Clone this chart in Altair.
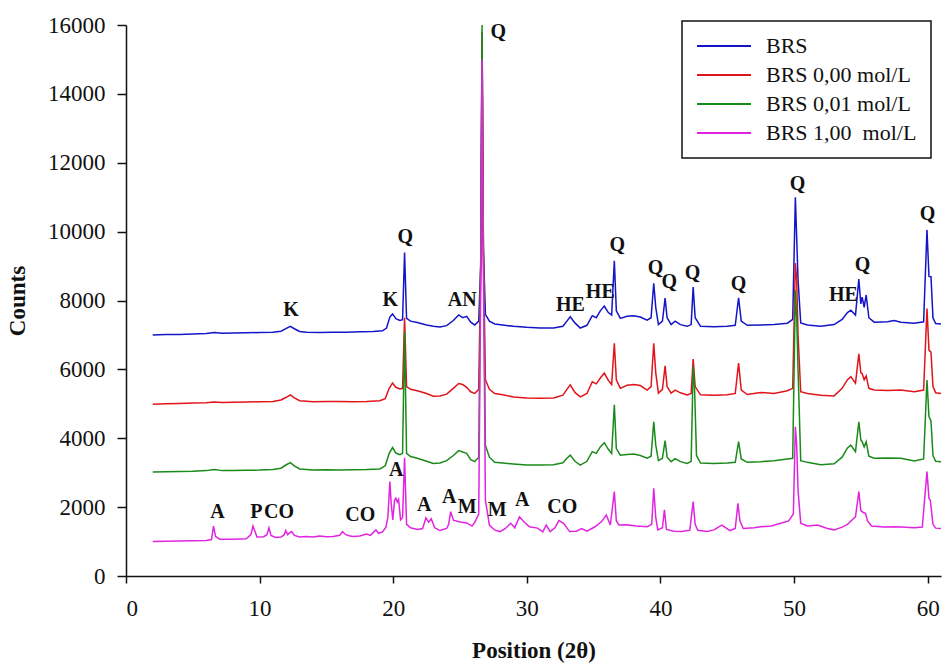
import altair as alt
import pandas as pd

# ---- series names & colours ----
series_names = ["BRS", "BRS 0,00 mol/L", "BRS 0,01 mol/L", "BRS 1,00\u00a0 mol/L"]
series_colors = ["#1414C8", "#E0141A", "#1A8A1A", "#E024E0"]

# ---- diffraction patterns: (2theta, counts) ----
brs = [(2.0, 7000), (3.0, 7010), (4.0, 7015), (5.0, 7030), (6.0, 7045), (6.6, 7070), (7.2, 7050),
       (8.0, 7055), (9.0, 7060), (10.0, 7070), (11.0, 7080), (11.6, 7110), (12.0, 7190), (12.3, 7250),
       (12.6, 7180), (13.0, 7100), (13.5, 7075), (14.5, 7070), (15.5, 7075), (16.5, 7080), (17.5, 7090),
       (18.5, 7100), (19.2, 7120), (19.5, 7200), (19.75, 7520), (19.95, 7610), (20.2, 7470), (20.5, 7420),
       (20.7, 7440), (20.85, 9390), (21.0, 7480), (21.3, 7400), (21.8, 7360), (22.5, 7290), (23.0, 7250),
       (23.5, 7230), (24.0, 7270), (24.5, 7420), (24.9, 7580), (25.2, 7500), (25.5, 7540), (25.8, 7370),
       (26.1, 7290), (26.4, 7400), (26.55, 9000), (26.65, 15600), (26.75, 9500), (26.9, 7600), (27.2, 7400),
       (27.6, 7320), (28.2, 7290), (29.0, 7250), (30.0, 7220), (31.0, 7200), (32.0, 7200), (32.7, 7250),
       (33.0, 7400), (33.25, 7530), (33.6, 7350), (34.0, 7200), (34.5, 7280), (34.9, 7560), (35.2, 7500),
       (35.5, 7700), (35.8, 7840), (36.1, 7650), (36.35, 7580), (36.55, 9150), (36.7, 7700), (37.0, 7480),
       (37.5, 7540), (38.0, 7560), (38.5, 7520), (39.0, 7430), (39.3, 7500), (39.5, 8500), (39.65, 7800),
       (39.85, 7300), (40.15, 7400), (40.35, 8070), (40.5, 7500), (40.8, 7300), (41.1, 7400), (41.5, 7300),
       (42.0, 7250), (42.3, 7300), (42.45, 8390), (42.6, 7500), (43.0, 7250), (44.0, 7240), (45.0, 7250),
       (45.6, 7280), (45.85, 8080), (46.05, 7400), (46.5, 7280), (47.5, 7290), (48.5, 7300), (49.5, 7340),
       (49.9, 7450), (50.1, 11000), (50.2, 9800), (50.3, 8600), (50.5, 7350), (51.0, 7290), (52.0, 7250),
       (53.0, 7300), (53.6, 7450), (54.0, 7650), (54.25, 7720), (54.6, 7580), (54.85, 8620), (55.0, 7900),
       (55.1, 8100), (55.25, 7800), (55.4, 8160), (55.6, 7500), (56.0, 7370), (57.0, 7380), (57.5, 7420),
       (58.0, 7370), (59.0, 7340), (59.7, 7380), (59.95, 10050), (60.1, 8700), (60.25, 8690), (60.4, 7500),
       (60.6, 7330), (61.0, 7320)]

brs_000 = [(2.0, 4990), (3.0, 5000), (4.0, 5010), (5.0, 5020), (6.0, 5030), (6.6, 5050), (7.2, 5040),
           (8.0, 5045), (9.0, 5050), (10.0, 5060), (11.0, 5070), (11.6, 5110), (12.0, 5190), (12.3, 5260),
           (12.6, 5170), (13.0, 5090), (14.0, 5060), (15.0, 5065), (16.0, 5070), (17.0, 5060), (18.0, 5070),
           (19.0, 5090), (19.4, 5150), (19.7, 5450), (19.95, 5600), (20.2, 5480), (20.5, 5430), (20.7, 5450),
           (20.85, 7500), (21.0, 5500), (21.3, 5420), (21.8, 5380), (22.5, 5300), (23.0, 5220), (23.5, 5230),
           (24.0, 5280), (24.5, 5450), (24.9, 5590), (25.2, 5560), (25.5, 5480), (25.8, 5350), (26.1, 5300),
           (26.4, 5420), (26.55, 9000), (26.65, 15800), (26.75, 9400), (26.9, 5700), (27.2, 5420), (27.6, 5300),
           (28.2, 5260), (29.0, 5200), (30.0, 5170), (31.0, 5160), (32.0, 5170), (32.7, 5250), (33.0, 5420),
           (33.25, 5550), (33.6, 5330), (34.0, 5200), (34.5, 5300), (34.9, 5640), (35.2, 5580), (35.5, 5750),
           (35.8, 5890), (36.1, 5680), (36.35, 5560), (36.55, 6760), (36.7, 5700), (37.0, 5450), (37.5, 5540),
           (38.0, 5560), (38.5, 5530), (39.0, 5400), (39.3, 5500), (39.5, 6760), (39.65, 5900), (39.85, 5310),
           (40.15, 5420), (40.35, 6100), (40.5, 5500), (40.8, 5310), (41.1, 5400), (41.5, 5320), (42.0, 5260),
           (42.3, 5300), (42.45, 6300), (42.6, 5500), (43.0, 5260), (44.0, 5250), (45.0, 5260), (45.6, 5300),
           (45.85, 6180), (46.05, 5400), (46.5, 5270), (47.5, 5330), (48.5, 5300), (49.5, 5380), (49.9, 5450),
           (50.1, 9090), (50.2, 8600), (50.3, 7000), (50.5, 5350), (51.0, 5300), (52.0, 5250), (53.0, 5230),
           (53.6, 5450), (54.0, 5700), (54.25, 5790), (54.6, 5600), (54.85, 6450), (55.0, 5900), (55.1, 5880),
           (55.25, 5700), (55.4, 5810), (55.6, 5450), (56.0, 5400), (57.0, 5390), (58.0, 5400), (59.0, 5350),
           (59.7, 5400), (59.95, 7770), (60.1, 6560), (60.25, 6500), (60.4, 5500), (60.6, 5320), (61.0, 5300)]

brs_001 = [(2.0, 3020), (3.0, 3030), (4.0, 3035), (5.0, 3040), (6.0, 3060), (6.6, 3090), (7.2, 3060),
           (8.0, 3060), (9.0, 3070), (10.0, 3075), (11.0, 3090), (11.6, 3130), (12.0, 3230), (12.3, 3290),
           (12.6, 3200), (13.0, 3110), (14.0, 3080), (15.0, 3085), (16.0, 3080), (17.0, 3085), (18.0, 3090),
           (19.0, 3110), (19.4, 3200), (19.7, 3560), (19.95, 3730), (20.2, 3570), (20.5, 3520), (20.7, 3560),
           (20.85, 7100), (21.0, 3560), (21.3, 3470), (21.8, 3420), (22.5, 3330), (23.0, 3270), (23.5, 3280),
           (24.0, 3350), (24.5, 3500), (24.9, 3640), (25.2, 3600), (25.5, 3560), (25.8, 3380), (26.1, 3320),
           (26.4, 3450), (26.55, 9200), (26.65, 16000), (26.75, 9600), (26.9, 3800), (27.2, 3450), (27.6, 3300),
           (28.2, 3280), (29.0, 3250), (30.0, 3220), (31.0, 3220), (32.0, 3230), (32.7, 3290), (33.0, 3420),
           (33.25, 3510), (33.6, 3330), (34.0, 3220), (34.5, 3330), (34.9, 3610), (35.2, 3560), (35.5, 3750),
           (35.8, 3870), (36.1, 3680), (36.35, 3560), (36.55, 4970), (36.7, 3700), (37.0, 3510), (37.5, 3530),
           (38.0, 3540), (38.5, 3500), (39.0, 3420), (39.3, 3480), (39.5, 4480), (39.65, 3800), (39.85, 3350),
           (40.15, 3420), (40.35, 3930), (40.5, 3450), (40.8, 3320), (41.1, 3410), (41.5, 3320), (42.0, 3270),
           (42.3, 3330), (42.45, 6080), (42.55, 5500), (42.7, 3500), (43.0, 3280), (44.0, 3270), (45.0, 3280),
           (45.6, 3300), (45.85, 3900), (46.05, 3400), (46.5, 3300), (47.5, 3320), (48.5, 3350), (49.5, 3400),
           (49.9, 3420), (50.1, 8300), (50.2, 7500), (50.3, 6000), (50.5, 3350), (51.0, 3300), (52.0, 3230),
           (53.0, 3260), (53.6, 3450), (54.0, 3720), (54.25, 3800), (54.6, 3610), (54.85, 4480), (55.0, 3950),
           (55.1, 3900), (55.25, 3750), (55.4, 3900), (55.6, 3480), (56.0, 3420), (57.0, 3430), (58.0, 3420),
           (59.0, 3340), (59.7, 3400), (59.95, 5690), (60.1, 4630), (60.25, 4500), (60.4, 3500), (60.6, 3330),
           (61.0, 3320)]

brs_100 = [(2.0, 1000), (3.0, 1010), (4.0, 1015), (5.0, 1020), (6.0, 1030), (6.4, 1060), (6.55, 1450),
           (6.7, 1150), (7.0, 1070), (8.0, 1070), (9.0, 1080), (9.35, 1200), (9.5, 1450), (9.65, 1300),
           (9.8, 1130), (10.3, 1140), (10.55, 1200), (10.7, 1400), (10.85, 1180), (11.2, 1120), (11.6, 1130),
           (11.85, 1200), (11.95, 1320), (12.1, 1200), (12.25, 1260), (12.4, 1290), (12.6, 1180), (13.0, 1130),
           (13.5, 1150), (14.0, 1130), (14.5, 1160), (15.0, 1140), (15.5, 1150), (16.0, 1180), (16.2, 1290),
           (16.45, 1200), (16.7, 1170), (17.0, 1150), (17.5, 1160), (18.0, 1220), (18.3, 1180), (18.7, 1340),
           (18.9, 1240), (19.2, 1280), (19.45, 1420), (19.6, 1700), (19.75, 2740), (19.85, 2100), (19.97, 1630),
           (20.1, 2200), (20.2, 2260), (20.3, 2150), (20.4, 2230), (20.55, 1630), (20.7, 1700), (20.85, 3430),
           (21.0, 1500), (21.3, 1400), (21.8, 1350), (22.2, 1380), (22.45, 1690), (22.65, 1560), (22.85, 1660),
           (23.1, 1400), (23.5, 1320), (24.0, 1380), (24.15, 1500), (24.3, 1870), (24.5, 1620), (25.0, 1570),
           (25.5, 1540), (25.9, 1450), (26.1, 1560), (26.4, 1800), (26.55, 8500), (26.65, 15000), (26.75, 9000),
           (26.9, 2200), (27.2, 1480), (27.6, 1330), (28.0, 1290), (28.4, 1380), (28.8, 1530), (29.1, 1400),
           (29.45, 1720), (29.8, 1570), (30.2, 1430), (30.8, 1390), (31.2, 1280), (31.45, 1480), (31.75, 1290),
           (32.1, 1400), (32.4, 1610), (32.75, 1530), (33.2, 1290), (33.7, 1300), (34.1, 1380), (34.5, 1300),
           (35.1, 1430), (35.6, 1580), (35.95, 1770), (36.25, 1480), (36.55, 2450), (36.7, 1600), (36.9, 1480),
           (37.5, 1490), (38.2, 1450), (39.0, 1430), (39.35, 1500), (39.5, 2550), (39.65, 1700), (39.8, 1340),
           (40.15, 1400), (40.3, 1920), (40.45, 1350), (41.0, 1300), (41.6, 1290), (42.2, 1330), (42.45, 2160),
           (42.6, 1500), (42.8, 1330), (43.5, 1290), (44.0, 1340), (44.6, 1480), (45.2, 1320), (45.6, 1380),
           (45.8, 2110), (45.95, 1600), (46.2, 1380), (47.0, 1400), (47.5, 1430), (48.3, 1450), (49.0, 1530),
           (49.6, 1600), (49.95, 1800), (50.1, 4330), (50.2, 3800), (50.3, 2500), (50.5, 1530), (51.0, 1450),
           (51.75, 1480), (52.5, 1380), (53.0, 1340), (53.6, 1420), (54.0, 1500), (54.4, 1650), (54.6, 1720),
           (54.85, 2450), (55.0, 1900), (55.15, 1850), (55.35, 1820), (55.5, 1600), (55.8, 1450), (56.7, 1420),
           (57.5, 1430), (58.0, 1420), (59.0, 1400), (59.6, 1420), (59.95, 3030), (60.1, 2260), (60.2, 2200),
           (60.4, 1500), (60.6, 1390), (61.0, 1380)]

# ---- phase labels: text, 2theta, counts ----
label_text = ["K", "K", "Q", "AN", "Q", "HE", "HE", "Q", "Q", "Q", "Q", "Q", "Q", "HE", "Q", "Q",
              "A", "P", "CO", "CO", "A", "A", "A", "M", "M", "A", "CO"]
label_x = [12.36, 19.78, 20.9, 25.17, 27.87, 33.26, 35.5, 36.78, 39.63, 40.67, 42.4, 45.84, 50.26, 53.7,
           55.13, 60.0, 6.85, 9.75, 11.45, 17.53, 20.22, 22.32, 24.19, 25.54, 27.79, 29.66, 32.66]
label_y = [7725, 8015, 9845, 8015, 15800, 7870, 8247, 9612, 8944, 8538, 8799, 8480, 11384, 8160, 9031,
           10512, 1844, 1844, 1844, 1771, 3078, 2062, 2294, 2004, 1917, 2207, 2004]

x_ticks = [0, 10, 20, 30, 40, 50, 60]
y_ticks = [0, 2000, 4000, 6000, 8000, 10000, 12000, 14000, 16000]

# ---- build tables ----
rows = []
for name, pts in zip(series_names, [brs, brs_000, brs_001, brs_100]):
    for i, (tt, c) in enumerate(pts):
        rows.append({"series": name, "theta": tt, "counts": c, "idx": i})
df = pd.DataFrame(rows)
labels = pd.DataFrame({"text": label_text, "theta": label_x, "counts": label_y})

FONT = "Liberation Serif"

x_enc = alt.X("theta:Q", scale=alt.Scale(domain=[0, 61], nice=False, zero=False),
              axis=alt.Axis(title="Position (2θ)", values=x_ticks, format="d"))
y_enc = alt.Y("counts:Q", scale=alt.Scale(domain=[0, 16000], nice=False),
              axis=alt.Axis(title="Counts", values=y_ticks, format="d"))

lines = alt.Chart(df).mark_line(strokeWidth=1.5, clip=False).encode(
    x=x_enc,
    y=y_enc,
    color=alt.Color("series:N",
                    scale=alt.Scale(domain=series_names, range=series_colors),
                    sort=series_names,
                    legend=alt.Legend(title=None, orient="none", legendX=556, legendY=-4,
                                      symbolType="stroke", symbolSize=2916, symbolStrokeWidth=2,
                                      clipHeight=22, rowPadding=7, padding=14,
                                      labelFont=FONT, labelFontSize=22, labelColor="#111",
                                      labelOffset=14, labelLimit=400,
                                      strokeColor="#111", fillColor="white")),
    order="idx:Q",
)

text = alt.Chart(labels).mark_text(font=FONT, fontSize=20, fontWeight="bold", color="#111",
                                   align="center", baseline="middle").encode(
    x="theta:Q", y="counts:Q", text="text:N")

chart = alt.layer(lines, text).properties(
    width=815, height=551,
    autosize=alt.AutoSizeParams(type="none"),
    padding={"left": 126, "top": 25, "right": 4, "bottom": 89},
).configure_view(stroke=None).configure_axis(
    grid=False, domainColor="#111", domainWidth=1.5, tickColor="#111", tickWidth=1.5,
    labelFont=FONT, labelFontSize=23, labelColor="#111",
    titleFont=FONT, titleFontSize=23, titleFontWeight="bold", titleColor="#111",
).configure_axisY(
    tickSize=9, labelPadding=12, titlePadding=18,
).configure_axisX(
    tickSize=7, labelPadding=14, titlePadding=19,
).configure_legend(strokeWidth=1.5)

chart.save("out.html", embed_options={"renderer": "svg", "actions": False})
